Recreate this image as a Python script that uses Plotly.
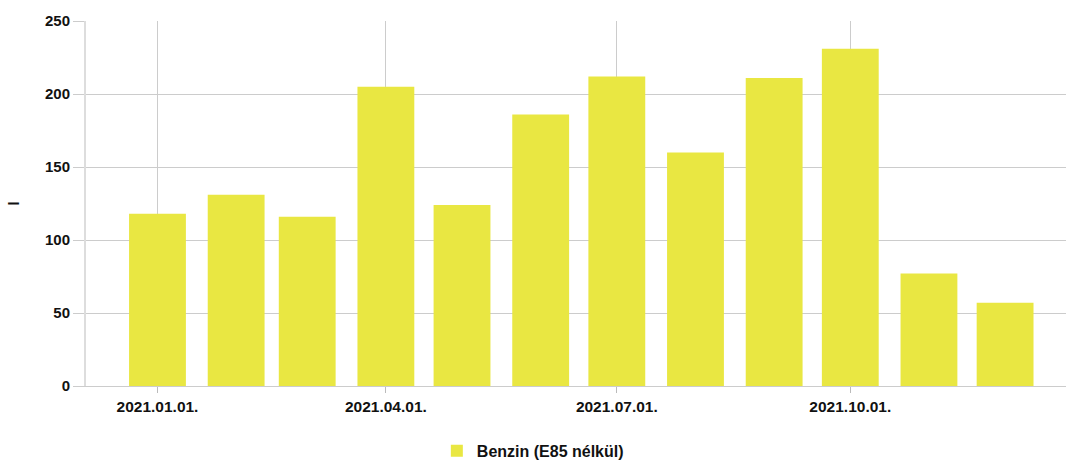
import plotly.graph_objects as go

months = ["2021-01-01", "2021-02-01", "2021-03-01", "2021-04-01", "2021-05-01", "2021-06-01",
          "2021-07-01", "2021-08-01", "2021-09-01", "2021-10-01", "2021-11-01", "2021-12-01"]
values = [118, 131, 116, 205, 124, 186, 212, 160, 211, 231, 77, 57]
series_name = "Benzin (E85 nélkül)"
y_title = "l"

FAM = "Liberation Sans, Arial, sans-serif"
INK = "#111111"

fig = go.Figure()
fig.add_trace(go.Bar(x=months, y=values, name=series_name,
                     marker=dict(color="#e9e742", line=dict(width=0))))

fig.update_layout(
    width=1067, height=461,
    margin=dict(l=86, r=1, t=21, b=75, autoexpand=False),
    paper_bgcolor="white", plot_bgcolor="white",
    font=dict(family=FAM, size=15, color=INK),
    bargap=0.2,
    showlegend=True,
    legend=dict(orientation="h", x=0.358, xanchor="left", y=-0.178, yanchor="middle",
                font=dict(family=FAM, size=16, color=INK, weight="bold")),
    xaxis=dict(type="date", range=["2020-12-03 20:00", "2021-12-25"],
               tick0="2021-01-01", dtick="M3", tickformat="%Y.%m.%d.",
               showgrid=True, gridcolor="#cccccc", gridwidth=1,
               ticks="outside", ticklen=6, tickcolor="#bbbbbb",
               showline=True, linecolor="#cccccc", linewidth=1,
               automargin=False,
               tickfont=dict(family=FAM, size=15.5, color=INK, weight="bold")),
    yaxis=dict(range=[0, 250], dtick=50, showgrid=True, gridcolor="#cccccc", gridwidth=1,
               ticks="outside", ticklen=11, tickcolor="#cccccc",
               showline=True, linecolor="#dddddd", linewidth=2,
               zeroline=False, automargin=False,
               title=dict(text=y_title, standoff=22,
                          font=dict(family=FAM, size=15, color=INK, weight="bold")),
               tickfont=dict(family=FAM, size=15, color=INK, weight="bold")),
)

fig.write_html("out.html", config={"displayModeBar": False},
               post_script="document.body.style.margin='0';document.body.style.overflow='hidden';")
